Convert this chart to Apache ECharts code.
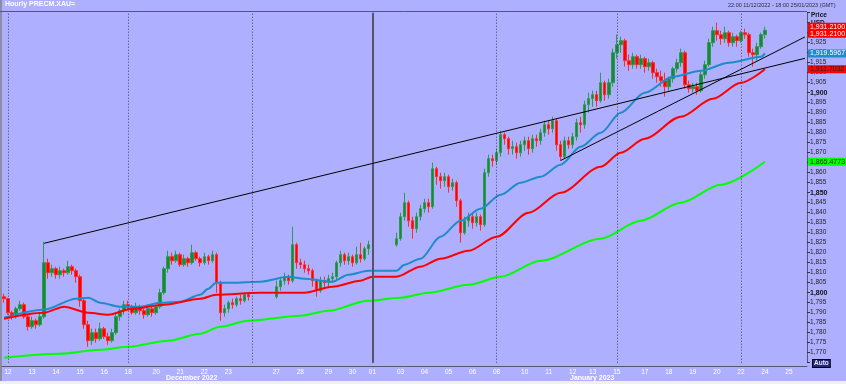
<!DOCTYPE html>
<html><head><meta charset="utf-8">
<script src="https://cdn.jsdelivr.net/npm/echarts@6/dist/echarts.min.js"></script>
<style>html,body{margin:0;padding:0;background:#AFAFFF}#c{width:846px;height:384px}</style>
</head><body><div id="c"></div>
<script>
// ---- data (4-hour slots, Dec 11 2022 22:00 -> Jan 25 2023 18:00) ----
const firstOpen = 1798;
const closes = [
1797,1790,1788,1792,1794,1788,1783,
1786,1784,1788,1815,1810,1812,
1809,1811,1810,1813,1811,1808,
1796,1784,1776,1780,1777,1782,
1778,1776,1780,1788,1791,1794,
1793,1790,1793,1791,1789,1792,
1790,1793,1800,1812,1818,1816,
1819,1814,1817,1815,1820,1817,1815,
1818,1816,1819,1805,1790,1792,
1795,1794,1797,1796,1799,1798,
null,null,null,null,null,null,
1803,1806,1808,1806,1824,1815,
1814,1812,1811,1806,1801,1806,1805,
1807,1808,1815,1819,1816,1818,
1815,1819,1817,1822,1824,
null,null,null,null,null,null,
1827,1838,1845,1836,1832,1838,
1842,1845,1843,1862,1858,1856,1858,
1853,1855,1846,1830,1836,1838,
1835,1838,1834,1860,1867,1866,
1870,1879,1877,1872,1873,1870,1874,
1876,1872,1877,1876,1880,1884,
1882,1886,1874,1868,1876,1874,
1878,1885,1884,1894,1897,
1899,1896,1905,1899,1905,1920,
1924,1926,1916,1914,1918,1914,
1917,1913,1915,1910,1908,1906,1903,
1907,1912,1915,1920,1904,1902,
1903,1901,1909,1914,1925,1931,
1929,1927,1930,1925,1928,1926,
1930,1929,1920,1919,1923,1929,1931.21
];
const highs = [
1799.5,1797.5,1791,1793,1796,1795,1789,
1788,1787,1790,1825.5,1817,1814,
1813,1813,1812,1816,1814,1812,
1809,1797,1786,1782,1782,1785,
1783,1780,1782,1790,1792,1796,
1796,1794,1795,1794,1792,1794,
1793,1794,1802,1813,1821,1820,
1821,1820,1819,1818,1824,1821,1818,
1820,1819,1821,1820,1806,1794,
1796,1797,1798,1799,1800,1800,
null,null,null,null,null,null,
1806,1808,1810,1809,1833,1825,
1817,1816,1814,1812,1807,1808,1808,
1809,1810,1816,1821,1820,1820,
1819,1823,1825,1823,1826,
null,null,null,null,null,null,
1830,1840,1850,1846,1838,1840,
1844,1847,1847,1865,1863,1860,1860,
1859,1857,1856,1847,1838,1840,
1840,1840,1839,1862,1869,1869,
1872,1881,1880,1878,1876,1875,1876,
1878,1878,1879,1879,1882,1886,
1886,1888,1887,1876,1878,1878,
1880,1887,1888,1896,1900,
1901,1901,1910,1906,1907,1922,
1929,1928,1927,1919,1920,1919,
1919,1918,1917,1916,1912,1911,1910,
1908,1913,1917,1922,1921,1906,
1905,1905,1911,1916,1927,1933,
1935,1931,1933,1931,1930,1929,
1931,1932,1930,1922,1925,1930,1933
];
const lows = [
1795,1789,1786.5,1787,1791,1787,1781,
1782,1782,1783,1787,1807,1808,
1807,1807,1808,1809,1809,1805,
1793,1782,1773,1774,1775,1776,
1777,1774,1775,1779,1786,1789,
1791,1789,1789,1789,1787,1788,
1788,1789,1792,1799,1810,1814,
1815,1813,1813,1813,1814,1816,1813,
1814,1814,1815,1800,1786,1788,
1790,1792,1793,1794,1795,1796,
null,null,null,null,null,null,
1797,1801,1804,1804,1805,1812,
1812,1810,1809,1803,1798,1800,1803,
1803,1805,1806,1813,1814,1814,
1813,1814,1815,1816,1819,
null,null,null,null,null,null,
1823,1826,1836,1833,1827,1830,
1836,1840,1840,1842,1854,1852,1853,
1850,1851,1843,1825,1829,1833,
1832,1833,1831,1833,1858,1863,
1864,1868,1874,1869,1869,1867,1868,
1871,1869,1870,1873,1874,1878,
1879,1880,1871,1866,1867,1872,
1872,1876,1880,1882,1890,
1893,1893,1895,1896,1897,1903,
1917,1920,1913,1911,1912,1912,
1912,1910,1911,1907,1905,1903,1898,
1901,1905,1910,1913,1902,1900,
1900,1899,1900,1907,1913,1923,
1926,1924,1925,1923,1923,1923,
1925,1927,1918,1913,1916,1922,1927
];
const slotCount = 201;
const dayLabels = ['12','13','14','15','16','18','20','21','22','23','27','28','29','30','01','03','04','05','06','08','10','11','12','13','15','17','18','19','20','22','24','25'];
const dayLabelSlots = [1,7,13,19,25,31,38,44,50,56,68,74,81,87,92,99,105,111,117,123,130,136,142,147,153,160,166,172,178,184,190,196];
const weekStartSlots = [1,31,62,92,123,153,184];
const yearBreakSlot = 92;
const maBlue = [[0,1787.5],[10,1791.5],[18,1797],[21,1797.5],[24,1795],[29,1793],[34,1793],[39,1795],[44,1795.5],[49,1799],[51,1802],[53,1805],[57,1805],[64,1805.5],[71,1808],[75,1807],[82,1805.5],[86,1809],[91,1811],[98,1811],[100,1814],[104,1817],[109,1828],[114,1836],[119,1842],[124,1849],[129,1855],[134,1858],[139,1864],[144,1873],[149,1880],[154,1890],[160,1900],[167,1908],[174,1911],[181,1915],[189,1918],[190,1919.5967]];
const maRed = [[0,1787],[10,1790],[15,1793],[21,1790],[26,1789],[32,1792],[40,1794],[49,1797],[53,1799],[64,1800],[75,1800],[82,1803],[89,1806],[92,1808],[98,1808],[104,1813],[109,1817],[116,1821],[123,1828],[131,1840],[139,1850],[149,1863],[154,1870],[160,1877],[169,1888],[177,1897],[184,1905],[190,1911.7032]];
const maGreen = [[0,1767.5],[14,1769.5],[24,1771.5],[31,1773],[41,1776],[49,1779.5],[54,1783],[61,1786],[74,1788.5],[81,1791],[91,1796],[99,1797.5],[106,1800],[116,1804],[124,1808],[134,1816],[149,1827],[159,1836],[169,1845],[179,1854],[190,1865.4773]];
const trendLong = [[10,1824.7],[200,1917.2]];
const trendShort = [[139,1866.1],[200,1927.9]];

// ---- build ----
const cats = []; for (let i = 0; i < slotCount; i++) cats.push(String(i));
const labelMap = {}; dayLabelSlots.forEach((s, k) => labelMap[s] = dayLabels[k]);
const candles = [];
let prev = firstOpen;
for (let i = 0; i < slotCount; i++) {
  const c = closes[i];
  if (c === undefined || c === null) { candles.push('-'); continue; }
  const o = prev;
  candles.push([o, c, Math.min(lows[i], o, c), Math.max(highs[i], o, c)]);
  prev = c;
}
const lastClose = closes[closes.length - 1];
const last = a => a[a.length - 1][1];
const fmt = (v, d) => v.toLocaleString('en-US', {minimumFractionDigits: d, maximumFractionDigits: d});
const FONT = 'Liberation Sans';

function priceTag(v, bg, fg, txt) {
  return {yAxis: v,
    lineStyle: {color: 'rgba(0,0,0,0)', width: 0},
    label: {show: true, position: 'end', distance: 1, formatter: txt || fmt(v, 4),
      backgroundColor: bg, color: fg, fontSize: 7, fontFamily: FONT, padding: [1, 2, 0, 2], lineHeight: 7}};
}

const chart = echarts.init(document.getElementById('c'), null, {renderer: 'canvas'});
chart.setOption({
  animation: false,
  backgroundColor: '#AFAFFF',
  textStyle: {fontFamily: FONT},
  grid: {left: 2, right: 39, top: 12.7, bottom: 21.3},
  xAxis: {
    type: 'category', data: cats, boundaryGap: true, offset: 3.3,
    axisLine: {show: true, lineStyle: {color: '#55557a', width: 1}},
    axisTick: {show: false}, splitLine: {show: false},
    axisLabel: {interval: 0, color: '#ffffff', fontSize: 6.5, margin: 3,
      formatter: (v, idx) => labelMap[idx] || ''}
  },
  yAxis: {
    type: 'value', position: 'right', min: 1765, max: 1940, interval: 5, scale: true,
    axisLine: {show: true, lineStyle: {color: '#55557a'}},
    axisTick: {show: true, length: 3, lineStyle: {color: '#333'}},
    splitLine: {show: false},
    axisLabel: {color: '#222', fontSize: 6.5, margin: 3,
      formatter: v => (v >= 1930 || v <= 1765) ? '' : (v % 50 === 0 ? '{b|' + fmt(v, 0) + '}' : fmt(v, 0)),
      rich: {b: {fontWeight: 'bold', fontSize: 7, color: '#111'}}}
  },
  series: [
    {type: 'candlestick', data: candles, barWidth: 3, z: 2,
      itemStyle: {color: '#17893A', color0: '#FF0000', borderColor: '#2E9A4E', borderColor0: '#FF2A2A', borderWidth: 1}},
    {type: 'line', data: maBlue, smooth: 0.3, smoothMonotone: 'x', symbol: 'none', z: 4, clip: false,
      lineStyle: {color: '#1E8CCB', width: 2},
      markLine: {silent: true, symbol: ['none', 'none'], data: [priceTag(last(maBlue), '#1E8CCB', '#ffffff')]}},
    {type: 'line', data: maRed, smooth: 0.3, smoothMonotone: 'x', symbol: 'none', z: 4, clip: false,
      lineStyle: {color: '#FF0000', width: 2},
      markLine: {silent: true, symbol: ['none', 'none'], data: [
        priceTag(last(maRed), '#FF0000', '#222222'),
        priceTag(lastClose, '#FF0000', '#ffffff', fmt(lastClose, 4) + '\n' + fmt(lastClose, 4))]}},
    {type: 'line', data: maGreen, smooth: 0.3, smoothMonotone: 'x', symbol: 'none', z: 4, clip: false,
      lineStyle: {color: '#00FF00', width: 2},
      markLine: {silent: true, symbol: ['none', 'none'], data: [priceTag(last(maGreen), '#00FF00', '#222222')]}},
    {type: 'line', data: trendLong, symbol: 'none', z: 5, lineStyle: {color: '#000', width: 1}},
    {type: 'line', data: trendShort, symbol: 'none', z: 5, lineStyle: {color: '#000', width: 1},
      markLine: {silent: true, symbol: ['none', 'none'], label: {show: false},
        data: weekStartSlots.map(s => ({xAxis: s, lineStyle: {color: '#44445a', type: [1, 2], width: 1}}))
          .concat([{xAxis: yearBreakSlot, lineStyle: {color: '#55556a', type: 'solid', width: 2}}])}}
  ],
  graphic: [
    {type: 'rect', shape: {x: 0, y: 381, width: 846, height: 3}, style: {fill: '#F3F1E6'}, silent: true},
    {type: 'rect', shape: {x: 0, y: 0, width: 2, height: 381}, style: {fill: '#8C8CA8'}, silent: true},
    {type: 'line', shape: {x1: 0, y1: 11.5, x2: 807, y2: 11.5}, style: {stroke: '#55557a', lineWidth: 1}, silent: true},
    {type: 'text', left: 5, top: 1, style: {text: 'Hourly PRECM.XAU=', fill: '#ffffff', font: 'bold 7px ' + FONT}},
    {type: 'text', left: 728, top: 2, style: {text: '22:00 11/12/2022 - 18:00 25/01/2023 (GMT)', fill: '#2a2a3a', font: '5.5px ' + FONT}},
    {type: 'text', left: 811, top: 12, style: {text: 'Price', fill: '#111', font: 'bold 6.5px ' + FONT}},
    {type: 'text', left: 811, top: 20, style: {text: 'USD', fill: '#111', font: 'bold 6.5px ' + FONT}},
    {type: 'text', left: 166, top: 375, style: {text: 'December 2022', fill: '#ffffff', font: 'bold 7px ' + FONT}},
    {type: 'text', left: 570, top: 375, style: {text: 'January 2023', fill: '#ffffff', font: 'bold 7px ' + FONT}},
    {type: 'text', left: 812, top: 359, style: {text: 'Auto', fill: '#E8E8FF', font: 'bold 6.5px ' + FONT,
      backgroundColor: '#24247A', borderColor: '#000', borderWidth: 1, padding: [0, 1]}}
  ]
});
</script></body></html>
